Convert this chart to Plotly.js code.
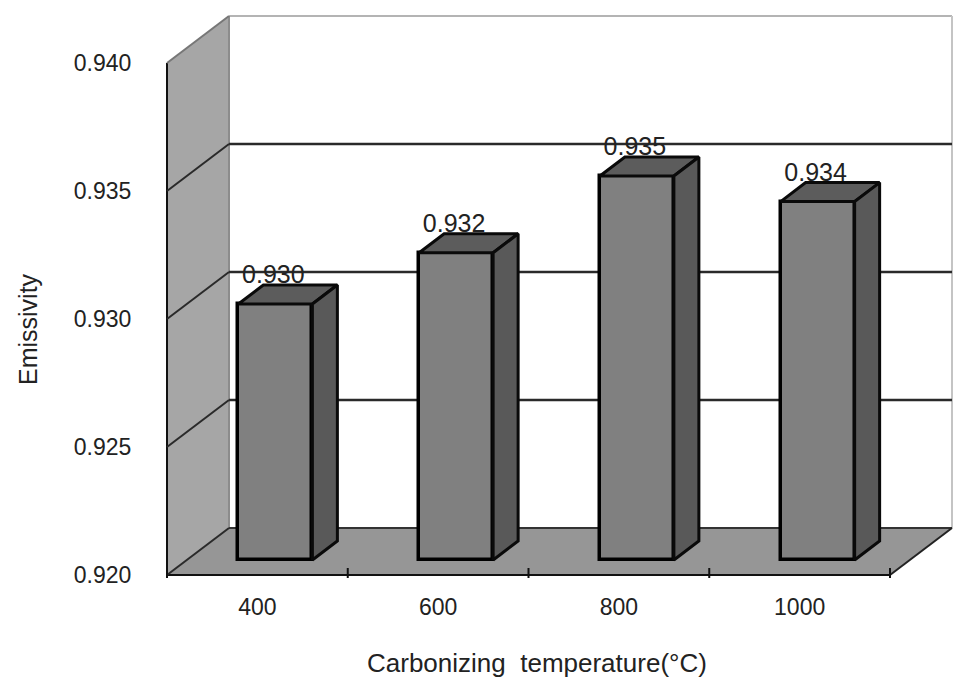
<!DOCTYPE html>
<html>
<head>
<meta charset="utf-8">
<script src="https://cdn.plot.ly/plotly-3.0.1.min.js"></script>
<style>html,body{margin:0;padding:0;background:#fff}</style>
</head>
<body>
<div id="chart" style="width:966px;height:680px"></div>
<script>
// values
const categories = ['400', '600', '800', '1000'];
const emissivity = [0.930, 0.932, 0.935, 0.934];
const valueLabels = ['0.930', '0.932', '0.935', '0.934'];
const yTicks = [0.920, 0.925, 0.930, 0.935, 0.940];
const yTickLabels = ['0.920', '0.925', '0.930', '0.935', '0.940'];

// fake 3D geometry, in pixels of the original picture
const catPx = 180.75, valPx = 25600;   // px per category, px per unit of emissivity
const originX = 167, originY = 575;    // front corner of the floor
const wallDx = 62, wallDy = 47;        // depth of the box
const barW = 74, barOffX = 18, barOffY = 15, barDx = 25, barDy = 19;
const yMin = 0.920, yMax = 0.940;

const mL = 160, mR = 11, mT = 8, mB = 100;
const W = 966, H = 680;

// pixel distance -> data distance
const dx = px => px / catPx;
const dy = px => px / valPx;

const font = 'Liberation Sans, sans-serif';
const textCol = '#222';

const xs = categories.map((c, i) => i + dx(barOffX) + 0.5);
const bases = categories.map(() => yMin + dy(barOffY));

// top and side faces of the bars as polygons
const topX = [], topY = [], sideX = [], sideY = [];
emissivity.forEach((v, i) => {
    const l = xs[i] - dx(barW / 2), r = xs[i] + dx(barW / 2);
    const t = v + dy(barOffY), b = bases[i];
    topX.push(l, r, r + dx(barDx), l + dx(barDx), l, null);
    topY.push(t, t, t + dy(barDy), t + dy(barDy), t, null);
    sideX.push(r, r + dx(barDx), r + dx(barDx), r, r, null);
    sideY.push(b, b + dy(barDy), t + dy(barDy), t, b, null);
});

const traces = [
    // labels first so the bar tops sit over them
    {
        type: 'scatter', mode: 'text', x: xs.map(x => x - dx(2)),
        y: emissivity.map(v => v + dy(barOffY + 27)),
        text: valueLabels, textposition: 'middle center',
        textfont: {family: font, size: 25, color: textCol},
        hoverinfo: 'skip', cliponaxis: false
    },
    {
        type: 'bar', x: xs, y: emissivity.map((v, i) => v + dy(barOffY) - bases[i]), base: bases,
        width: dx(barW),
        marker: {color: '#808080', line: {color: '#000', width: 3.5}}
    },
    {
        type: 'scatter', mode: 'lines', x: topX, y: topY, fill: 'toself', fillcolor: '#5c5c5c',
        line: {color: '#0a0a0a', width: 3}, hoverinfo: 'skip'
    },
    {
        type: 'scatter', mode: 'lines', x: sideX, y: sideY, fill: 'toself', fillcolor: '#595959',
        line: {color: '#0a0a0a', width: 3}, hoverinfo: 'skip'
    }
];

const xEnd = categories.length;
const backL = dx(wallDx), backR = xEnd + dx(wallDx), yBack = dy(wallDy);

function poly(points, fill, lineCol, lineW) {
    const path = points.map((p, i) => (i ? 'L' : 'M') + p[0] + ',' + p[1]).join(' ') + ' Z';
    return {type: 'path', path, fillcolor: fill, line: {color: lineCol, width: lineW}, layer: 'below'};
}
function seg(x0, y0, x1, y1, col, w) {
    return {type: 'line', x0, y0, x1, y1, line: {color: col, width: w}, layer: 'below'};
}

const shapes = [
    // side wall
    poly([[0, yMin], [backL, yMin + yBack], [backL, yMax + yBack], [0, yMax]], '#a6a6a6', 'rgba(0,0,0,0)', 0),
    // floor
    poly([[0, yMin], [backL, yMin + yBack], [backR, yMin + yBack], [xEnd, yMin]], '#969696', 'rgba(0,0,0,0)', 0),
    // back wall border
    seg(backL, yMax + yBack, backR, yMax + yBack, '#b4b4b4', 2),
    seg(backR, yMin + yBack, backR, yMax + yBack, '#c4c4c4', 2),
    seg(backL, yMin + yBack, backL, yMax + yBack, '#8c8c8c', 2),
    // floor edges
    seg(backL, yMin + yBack, backR, yMin + yBack, '#333', 2),
    seg(xEnd, yMin, backR, yMin + yBack, '#222', 2),
    // axes
    seg(0, yMin, 0, yMax, '#111', 2),
    seg(0, yMin, xEnd, yMin, '#111', 2)
];
// gridlines run over the side wall and along the back wall
yTicks.forEach(v => {
    const col = v === yMax ? '#777' : '#2a2a2a';
    shapes.push(seg(0, v, backL, v + yBack, col, 2));
    if (v > yMin && v < yMax) shapes.push(seg(backL, v + yBack, backR, v + yBack, col, 2.5));
});
// category separators on the x axis
for (let i = 0; i <= xEnd; i++) {
    shapes.push(seg(i, yMin - dy(3), i, yMin + dy(7), '#111', 2));
}

const layout = {
    width: W, height: H,
    margin: {l: mL, r: mR, t: mT, b: mB, pad: 0},
    paper_bgcolor: '#fff', plot_bgcolor: '#fff',
    showlegend: false,
    bargap: 0,
    xaxis: {
        range: [dx(mL - originX), dx(W - mR - originX)],
        tickmode: 'array',
        tickvals: categories.map((c, i) => i + 0.5),
        ticktext: categories,
        ticks: 'outside', ticklen: 6, tickcolor: 'rgba(0,0,0,0)',
        showgrid: false, zeroline: false, showline: false,
        tickfont: {family: font, size: 23, color: textCol}
    },
    yaxis: {
        range: [yMin - dy(H - mB - originY), yMin + dy(originY - mT)],
        tickmode: 'array',
        tickvals: yTicks,
        ticktext: yTickLabels,
        ticks: 'outside', ticklen: 23, tickcolor: 'rgba(0,0,0,0)',
        showgrid: false, zeroline: false, showline: false,
        tickfont: {family: font, size: 23, color: textCol}
    },
    shapes: shapes,
    annotations: [
        {
            text: 'Carbonizing  temperature(°C)', xref: 'paper', yref: 'paper',
            x: (537 - mL) / (W - mL - mR), y: -(663 - (H - mB)) / (H - mT - mB),
            xanchor: 'center', yanchor: 'middle', showarrow: false,
            font: {family: font, size: 26, color: textCol}
        },
        {
            text: 'Emissivity', xref: 'paper', yref: 'paper', textangle: -90,
            x: -(mL - 28) / (W - mL - mR), y: (H - mB - 329) / (H - mT - mB),
            xanchor: 'center', yanchor: 'middle', showarrow: false,
            font: {family: font, size: 25, color: textCol}
        }
    ]
};

Plotly.newPlot('chart', traces, layout, {displayModeBar: false, responsive: false});
</script>
</body>
</html>
